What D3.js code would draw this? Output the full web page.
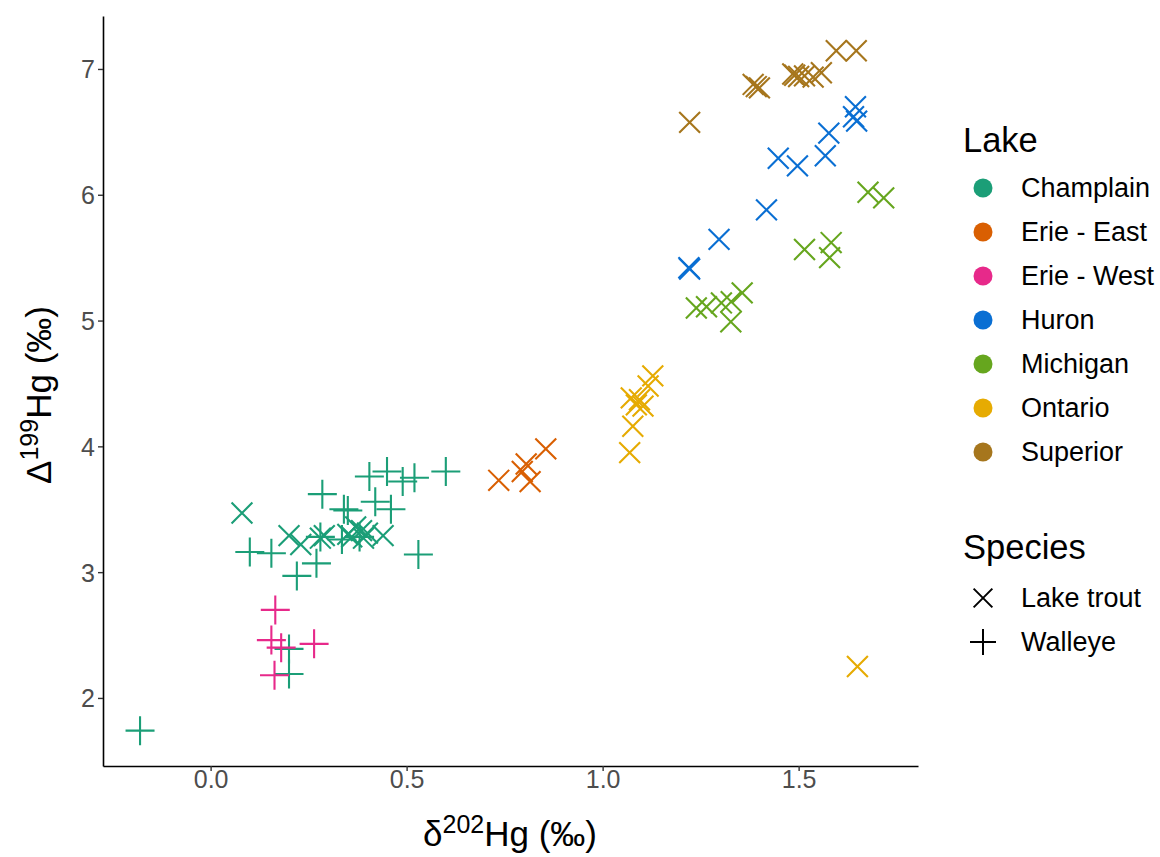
<!DOCTYPE html>
<html><head><meta charset="utf-8">
<script src="https://cdn.jsdelivr.net/npm/d3@7"></script>
<style>body{margin:0;background:#fff}svg{display:block;font-family:"Liberation Sans",Arial,sans-serif}</style>
</head><body><svg id="c" width="1160" height="857"></svg>
<script>
const lakes = ["Champlain","Erie - East","Erie - West","Huron","Michigan","Ontario","Superior"];
const lakeColors = ["#1B9E77","#D95F02","#E7298A","#0A6FD3","#66A61E","#E6AB02","#A6761D"];
const speciesNames = ["Lake trout","Walleye"];
const xTicks = [0.0,0.5,1.0,1.5];
const yTicks = [2,3,4,5,6,7];

// [d202Hg, D199Hg]
const champlainTrout = [[0.08,3.47],[0.20,3.29],[0.23,3.22],[0.28,3.27],[0.29,3.29],[0.35,3.30],[0.37,3.36],[0.385,3.33],[0.39,3.27],[0.40,3.31],[0.44,3.29],[0.36,3.28]];
const champlainWalleye = [[-0.18,1.74],[0.20,2.39],[0.20,2.19],[0.10,3.16],[0.155,3.15],[0.22,2.97],[0.27,3.07],[0.285,3.62],[0.34,3.50],[0.35,3.49],[0.405,3.76],[0.45,3.80],[0.49,3.72],[0.52,3.75],[0.42,3.56],[0.46,3.50],[0.53,3.14],[0.335,3.26],[0.28,3.28],[0.60,3.80],[0.38,3.28]];
const erieWestWalleye = [[0.165,2.70],[0.155,2.46],[0.18,2.40],[0.264,2.43],[0.163,2.18]];
const erieEastTrout = [[0.735,3.73],[0.805,3.86],[0.795,3.80],[0.815,3.72],[0.855,3.98]];
const huronTrout = [[1.22,5.42],[1.222,5.41],[1.297,5.645],[1.418,5.88],[1.448,6.29],[1.497,6.23],[1.568,6.31],[1.577,6.49],[1.645,6.70],[1.64,6.62],[1.648,6.585]];
const michiganTrout = [[1.239,5.10],[1.265,5.11],[1.303,5.14],[1.328,5.15],[1.327,4.99],[1.356,5.22],[1.515,5.565],[1.583,5.62],[1.579,5.50],[1.677,6.02],[1.717,5.975]];
const ontarioTrout = [[1.069,3.95],[1.077,4.16],[1.086,4.33],[1.073,4.385],[1.094,4.37],[1.103,4.32],[1.116,4.48],[1.128,4.56],[1.65,2.25]];
const superiorTrout = [[1.222,6.575],[1.384,6.877],[1.40,6.85],[1.392,6.86],[1.485,6.96],[1.49,6.95],[1.50,6.94],[1.515,6.945],[1.537,6.935],[1.558,6.97],[1.596,7.145],[1.647,7.145]];

const groups = [
  {lake:"Champlain", sp:"Lake trout", pts:champlainTrout},
  {lake:"Champlain", sp:"Walleye", pts:champlainWalleye},
  {lake:"Erie - East", sp:"Lake trout", pts:erieEastTrout},
  {lake:"Erie - West", sp:"Walleye", pts:erieWestWalleye},
  {lake:"Huron", sp:"Lake trout", pts:huronTrout},
  {lake:"Michigan", sp:"Lake trout", pts:michiganTrout},
  {lake:"Ontario", sp:"Lake trout", pts:ontarioTrout},
  {lake:"Superior", sp:"Lake trout", pts:superiorTrout}
];
const data = [];
groups.forEach(g => g.pts.forEach(p => data.push({x:p[0], y:p[1], lake:g.lake, sp:g.sp})));

const svg = d3.select("#c");
const L=103, R=918, T=16, B=766;
const xs = d3.scaleLinear().domain([-0.2745,1.8045]).range([L,R]);
const ys = d3.scaleLinear().domain([1.459,7.421]).range([B,T]);
const color = d3.scaleOrdinal().domain(lakes).range(lakeColors);

function symPath(sp, s){
  if(sp==="Lake trout"){const a=s*0.72;return `M${-a},${-a}L${a},${a}M${-a},${a}L${a},${-a}`;}
  return `M${-s},0L${s},0M0,${-s}L0,${s}`;
}

// points
svg.append("g").selectAll("path").data(data).join("path")
  .attr("transform", d=>`translate(${xs(d.x)},${ys(d.y)})`)
  .attr("d", d=>symPath(d.sp,14.5))
  .attr("stroke", d=>color(d.lake)).attr("stroke-width",2.1).attr("fill","none");

// axes
const xAxis = svg.append("g").attr("transform",`translate(0,${B})`)
  .call(d3.axisBottom(xs).tickValues(xTicks).tickFormat(d3.format(".1f")).tickSize(5).tickSizeOuter(0));
const yAxis = svg.append("g").attr("transform",`translate(${L},0)`)
  .call(d3.axisLeft(ys).tickValues(yTicks).tickFormat(d3.format("d")).tickSize(5).tickSizeOuter(0));
[xAxis,yAxis].forEach(a=>{
  a.attr("font-size",null).attr("font-family",null);
  a.select(".domain").attr("stroke","#000").attr("stroke-width",1.6);
  a.selectAll(".tick line").attr("stroke","#333").attr("stroke-width",1.4);
  a.selectAll(".tick text").attr("fill","#4D4D4D").style("font-size","25px").style("font-family","'Liberation Sans', Arial, sans-serif");
});
xAxis.selectAll(".tick text").attr("y",3).attr("dy","0.75em");
yAxis.selectAll(".tick text").attr("x",-8).attr("dy","0.36em");

// axis titles
const xt = svg.append("text").attr("x",510).attr("y",846).attr("text-anchor","middle").style("font-size","35px").attr("fill","#000");
xt.append("tspan").text("δ");
xt.append("tspan").style("font-size","25px").attr("dy",-13).text("202");
xt.append("tspan").attr("dy",13).text("Hg (‰)");
const yt = svg.append("text").attr("transform","translate(51,395) rotate(-90)").attr("text-anchor","middle").style("font-size","35px").attr("fill","#000");
yt.append("tspan").text("Δ");
yt.append("tspan").style("font-size","25px").attr("dy",-13).text("199");
yt.append("tspan").attr("dy",13).text("Hg (‰)");

// legend
const lg = svg.append("g");
lg.append("text").attr("x",963).attr("y",152).style("font-size","34.5px").text("Lake");
lakes.forEach((k,i)=>{
  const y = 188 + i*44;
  lg.append("circle").attr("cx",983).attr("cy",y).attr("r",9.5).attr("fill",color(k));
  lg.append("text").attr("x",1021).attr("y",y+9).style("font-size","27px").text(k);
});
lg.append("text").attr("x",963).attr("y",559).style("font-size","34.5px").text("Species");
speciesNames.forEach((k,i)=>{
  const y = 598 + i*44;
  lg.append("path").attr("transform",`translate(983,${y})`).attr("d",symPath(k,13))
    .attr("stroke","#000").attr("stroke-width",2).attr("fill","none");
  lg.append("text").attr("x",1021).attr("y",y+9).style("font-size","27px").text(k);
});
</script></body></html>
